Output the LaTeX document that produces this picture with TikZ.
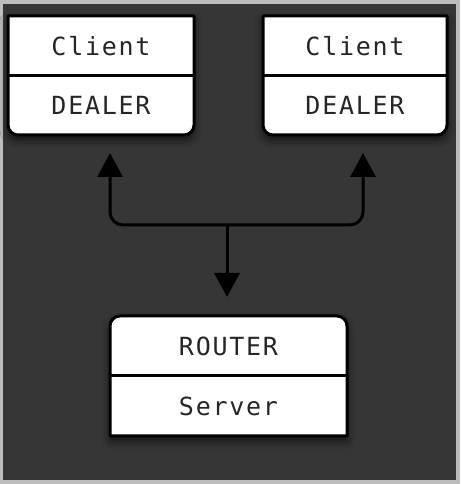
\documentclass[tikz,border=0pt]{standalone}
\usepackage{fontspec}
\newfontfamily\boxmono[LetterSpace=7]{DejaVu Sans Mono}
\usetikzlibrary{arrows.meta,shadows.blur,calc}
\definecolor{bgdark}{HTML}{363636}
\definecolor{bgframe}{HTML}{BDBDBD}
\tikzset{
  area/.style={rectangle, inner sep=0pt, outer sep=0pt, draw=none},
  boxline/.style={draw=black, line width=3pt, fill=white, line join=round,
    blur shadow={shadow xshift=0pt, shadow yshift=-5pt, shadow blur radius=8pt, shadow opacity=65}},
  divline/.style={draw=black, line width=3pt},
  label/.style={font=\boxmono\fontsize{25}{30}\selectfont, text=black!85, inner sep=0pt},
  arr/.style={draw=black, line width=3pt, rounded corners=13pt, -{Triangle[length=24pt,width=25pt]}}
}
\begin{document}
\begin{tikzpicture}[x=1pt,y=1pt]
\useasboundingbox (0,0) rectangle (460,484);
\fill[bgframe] (0,0) rectangle (460,484);
\fill[bgdark] (3,4) rectangle (456,480);

% areas of the three boxes
\node[area, minimum width=186pt, minimum height=119pt] (c1) at (101,408.5) {};
\node[area, minimum width=184pt, minimum height=119pt] (c2) at (355,408.5) {};
\node[area, minimum width=237pt, minimum height=120pt] (s) at (228.5,108) {};

% outlines
\path[boxline] (c1.north west) -- (c1.north east) -- ([yshift=10pt]c1.south east)
  arc[start angle=0,end angle=-90,radius=10pt] -- ([xshift=10pt]c1.south west)
  arc[start angle=270,end angle=180,radius=10pt] -- cycle;
\path[boxline] (c2.north west) -- (c2.north east) -- ([yshift=10pt]c2.south east)
  arc[start angle=0,end angle=-90,radius=10pt] -- ([xshift=10pt]c2.south west)
  arc[start angle=270,end angle=180,radius=10pt] -- cycle;
\path[boxline] (s.south west) -- (s.south east) -- ([yshift=-10pt]s.north east)
  arc[start angle=0,end angle=90,radius=10pt] -- ([xshift=10pt]s.north west)
  arc[start angle=90,end angle=180,radius=10pt] -- cycle;

% dividers
\draw[divline] (c1.west) -- (c1.east);
\draw[divline] (c2.west) -- (c2.east);
\draw[divline] (s.west) -- (s.east);

% texts
\node[label] (c1t) at ($(c1.north)!0.25!(c1.south)$) {Client};
\node[label] (c1b) at ($(c1.north)!0.75!(c1.south)$) {DEALER};
\node[label] (c2t) at ($(c2.north)!0.25!(c2.south)$) {Client};
\node[label] (c2b) at ($(c2.north)!0.75!(c2.south)$) {DEALER};
\node[label] (st) at ($(s.north)!0.25!(s.south)$) {ROUTER};
\node[label] (sb) at ($(s.north)!0.75!(s.south)$) {Server};

% connectors
\coordinate (j) at (227,259);
\draw[arr] (j) -| ([xshift=9pt,yshift=-18pt]c1.south);
\draw[arr] (j) -| ([xshift=8pt,yshift=-18pt]c2.south);
\draw[arr] (j) -- ([xshift=-1.5pt,yshift=19pt]s.north);
\end{tikzpicture}
\end{document}
